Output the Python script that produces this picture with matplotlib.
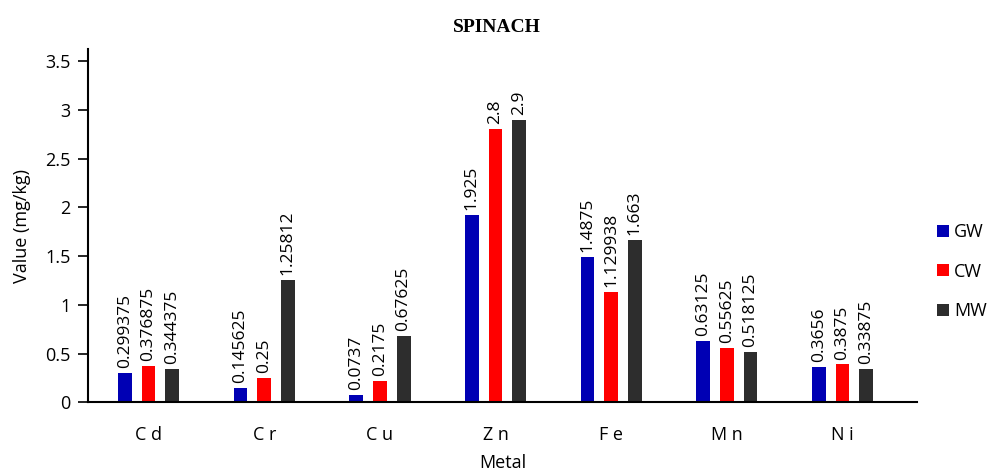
import numpy as np
import matplotlib.pyplot as plt

metals = ["C d", "C r", "C u", "Z n", "F e", "M n", "N i"]
gw = [0.299375, 0.145625, 0.0737, 1.925, 1.4875, 0.63125, 0.3656]
cw = [0.376875, 0.25, 0.2175, 2.8, 1.129938, 0.55625, 0.3875]
mw = [0.344375, 1.25812, 0.67625, 2.9, 1.663, 0.518125, 0.33875]
gw_txt = ["0.299375", "0.145625", "0.0737", "1.925", "1.4875", "0.63125", "0.3656"]
cw_txt = ["0.376875", "0.25", "0.2175", "2.8", "1.129938", "0.55625", "0.3875"]
mw_txt = ["0.344375", "1.25812", "0.67625", "2.9", "1.663", "0.518125", "0.33875"]

plt.rcParams["font.family"] = ["Open Sans", "DejaVu Sans"]

fig = plt.figure(figsize=(9.93, 4.71), dpi=100)
ax = fig.add_axes([0.089, 0.146, 0.834, 0.749])

x = np.arange(len(metals))
w = 0.12
off = 0.205
series = [(gw, gw_txt, "#0000B4", "GW"), (cw, cw_txt, "#FF0000", "CW"), (mw, mw_txt, "#2D2D2D", "MW")]
for i, (vals, txt, col, name) in enumerate(series):
    xs = x + (i - 1) * off
    ax.bar(xs, vals, width=w, color=col, label=name)
    for xi, v, t in zip(xs, vals, txt):
        ax.text(xi, v + 0.05, t, rotation=90, ha="center", va="bottom", fontsize=12.5)

ax.set_xlim(-0.52, 6.64)
ax.set_ylim(0, 3.62)
ax.set_yticks([0, 0.5, 1, 1.5, 2, 2.5, 3, 3.5])
ax.set_yticklabels(["0", "0.5", "1", "1.5", "2", "2.5", "3", "3.5"])
ax.set_xticks(x)
ax.set_xticklabels(metals)
ax.tick_params(axis="x", length=0, pad=17, labelsize=13)
ax.tick_params(axis="y", length=7, width=1.2, labelsize=13, pad=6)
ax.spines["top"].set_visible(False)
ax.spines["right"].set_visible(False)
ax.spines["left"].set_linewidth(1.5)
ax.spines["bottom"].set_linewidth(1.5)

ax.set_ylabel("Value (mg/kg)", fontsize=13, labelpad=10)
ax.set_xlabel("Metal", fontsize=13, labelpad=7)
fig.suptitle("SPINACH", fontsize=14, fontweight="bold", family="Liberation Serif", y=0.96)

ax.legend(loc="center left", bbox_to_anchor=(1.005, 0.37), frameon=False, fontsize=13,
          handlelength=0.65, handleheight=0.65, handletextpad=0.3, labelspacing=1.2)

fig.savefig("out.png", dpi=100)
